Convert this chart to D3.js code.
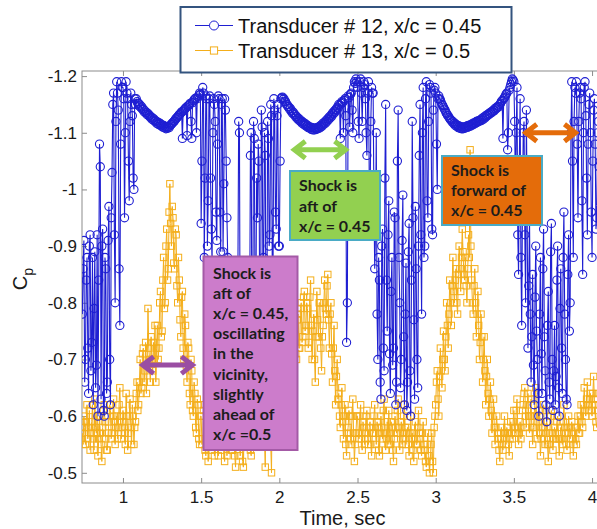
<!DOCTYPE html>
<html>
<head>
<meta charset="utf-8">
<script src="https://cdn.jsdelivr.net/npm/d3@7"></script>
<style>
  html, body { margin: 0; padding: 0; background: #ffffff; overflow: hidden; }
  svg { display: block; }
</style>
</head>
<body>
<svg id="chart" width="597" height="529"></svg>
<script>
// Sampling of both pressure records (seconds)
const tStart = 0.74;
const tStep = 0.005;

// Transducer #12 (x/c = 0.45), Cp, one value per time step from t = 0.74 s
const cp12 = [
  -0.78,-0.86,-0.91,-0.66,-0.70,-0.84,-0.88,-0.72,-0.64,-0.90,-0.92,-0.68,
  -0.73,-0.88,-0.62,-0.79,-0.89,-0.65,-0.69,-0.92,-0.60,-0.84, -1.08,-1.04,-0.63,-0.90,-0.93,-0.61,-0.60,-0.88,-0.86,-0.64,
  -0.66,-0.91,-0.97,-0.70,-0.62,-0.95,-1.03,-1.15,-1.17,-0.92, -0.80,-1.12,-1.19,-1.17,-1.14,-0.86,-0.76,-1.08,-1.19,-1.18,
  -1.18,-1.16,-0.95,-1.10,-1.19,-1.17,-1.16,-1.05,-0.98,-1.12, -1.17,-1.15,-1.13,-1.02,-1.00,-1.16,-1.15,-1.16,-1.155,-1.152,
  -1.152,-1.147,-1.149,-1.144,-1.146,-1.141,-1.142,-1.137,-1.139,-1.135, -1.136,-1.132,-1.134,-1.13,-1.131,-1.127,-1.128,-1.124,-1.126,-1.122,
  -1.124,-1.12,-1.121,-1.117,-1.119,-1.115,-1.118,-1.114,-1.116,-1.112, -1.114,-1.11,-1.113,-1.109,-1.111,-1.107,-1.11,-1.108,-1.111,-1.109,
  -1.112,-1.114,-1.115,-1.117,-1.118,-1.12,-1.121,-1.124,-1.125,-1.127, -1.128,-1.13,-1.132,-1.133,-1.135,-1.137,-1.09,-1.138,-1.14,-1.142,
  -1.143,-1.145,-1.095,-1.147,-1.148,-1.15,-1.152,-1.12,-1.09,-1.153, -1.156,-1.158,-1.16,-1.161,-1.10,-1.16,-1.163,-1.166,-1.17,-1.168,
  -0.94,-1.05,-1.18,-1.17,-0.88,-1.02,-1.165,-1.16,-0.90,-0.98, -1.16,-1.165,-1.02,-0.93,-0.87,-1.10,-1.16,-1.15,-1.12,-0.96,
  -0.91,-1.08,-1.165,-1.16,-0.96,-0.89,-1.15,-1.16,-0.89,-1.01, -1.16,-1.14,-1.05,-0.95,-0.88,-0.80,-0.75,-0.70,-0.68,-0.74,
  -0.72,-0.66,-0.64,-0.80,-0.78,-0.69,-0.70,-0.85,-1.12,-1.10, -0.66,-0.71,-0.74,-0.63,-0.62,-0.76,-0.70,-0.82,-0.80,-0.67,
  -0.68,-0.79,-0.76,-1.06,-1.10,-0.70,-0.72,-1.12,-1.09,-0.78, -0.80,-1.02,-0.95,-1.08,-1.05,-0.76,-0.74,-1.14,-1.11,-0.86,
  -0.88,-1.10,-1.06,-0.72,-0.70,-1.12,-1.09,-0.90,-0.92,-1.15, -1.13,-0.85,-0.87,-1.16,-1.14,-0.96,-0.93,-1.13,-1.15,-0.90,
  -0.90,-1.05,-1.16,-1.162,-1.163,-1.159,-1.16,-1.155,-1.155,-1.15, -1.15,-1.146,-1.146,-1.142,-1.143,-1.138,-1.139,-1.134,-1.136,-1.132,
  -1.132,-1.128,-1.129,-1.125,-1.126,-1.122,-1.124,-1.12,-1.121,-1.117, -1.119,-1.115,-1.117,-1.113,-1.115,-1.111,-1.113,-1.109,-1.111,-1.108,
  -1.11,-1.106,-1.109,-1.105,-1.108,-1.105,-1.108,-1.106,-1.109,-1.107, -1.11,-1.108,-1.112,-1.11,-1.114,-1.112,-1.117,-1.115,-1.119,-1.117,
  -1.122,-1.12,-1.125,-1.123,-1.128,-1.126,-1.131,-1.129,-1.135,-1.133, -1.138,-1.136,-1.141,-1.14,-1.145,-1.143,-1.15,-1.148,-1.09,-1.152,
  -1.155,-1.153,-1.10,-1.157,-1.16,-1.13,-0.73,-0.80,-1.165,-1.162, -1.11,-1.168,-1.17,-1.14,-1.10,-1.18,-1.19,-1.187,-1.195,-1.19,
  -1.18,-1.12,-1.09,-1.19,-1.195,-1.17,-1.12,-1.18,-1.19,-1.185, -1.16,-1.10,-1.06,-1.17,-1.19,-1.02,-0.96,-1.12,-1.18,-1.17,
  -1.17,-0.98,-0.86,-0.92,-1.10,-0.78,-0.70,-0.88,-0.84,-0.66, -0.63,-0.90,-0.93,-0.72,-0.68,-1.02,-1.15,-0.84,-0.75,-0.92,
  -0.98,-0.71,-0.64,-0.82,-0.88,-0.69,-0.72,-0.96,-0.95,-0.62, -0.66,-1.05,-1.14,-0.88,-0.80,-0.65,-0.70,-0.91,-0.99,-0.74,
  -0.62,-0.78,-0.87,-0.61,-0.66,-0.89,-0.94,-0.68,-0.60,-0.84, -1.12,-0.95,-0.77,-0.63,-0.97,-0.86,-0.70,-0.65,-0.90,-1.06,
  -1.15,-0.92,-0.78,-1.10,-1.18,-0.88,-0.90,-1.16,-1.19,-0.98, -0.95,-1.12,-1.185,-1.18,-1.17,-0.93,-0.92,-1.14,-1.175,-1.18,
  -1.17,-1.08,-1.00,-1.16,-1.165,-1.16,-1.158,-1.154,-1.15,-1.148, -1.145,-1.142,-1.14,-1.136,-1.134,-1.131,-1.13,-1.127,-1.125,-1.123,
  -1.122,-1.119,-1.12,-1.116,-1.117,-1.113,-1.115,-1.111,-1.113,-1.109, -1.112,-1.108,-1.111,-1.107,-1.11,-1.107,-1.11,-1.108,-1.111,-1.109,
  -1.112,-1.11,-1.113,-1.111,-1.114,-1.112,-1.115,-1.114,-1.117,-1.115, -1.118,-1.117,-1.12,-1.118,-1.121,-1.12,-1.122,-1.121,-1.124,-1.122,
  -1.126,-1.124,-1.128,-1.126,-1.13,-1.129,-1.132,-1.131,-1.134,-1.133, -1.136,-1.135,-1.138,-1.137,-1.14,-1.139,-1.143,-1.142,-1.145,-1.144,
  -1.147,-1.146,-1.15,-1.152,-1.155,-1.157,-1.09,-1.16,-1.162,-1.165, -1.168,-1.17,-1.07,-1.10,-1.175,-1.18,-1.185,-1.19,-1.195,-1.193,
  -1.19,-1.12,-0.98,-1.10,-1.18,-0.92,-0.85,-1.05,-1.16,-0.88, -0.76,-0.98,-1.10,-1.12,-0.92,-0.80,-1.14,-0.95,-0.72,-0.83,
  -0.95,-0.78,-0.66,-0.74,-0.85,-0.69,-0.62,-0.81,-0.90,-0.75, -0.70,-0.64,-0.60,-0.78,-0.88,-0.71,-0.64,-0.86,-0.93,-0.74,
  -0.68,-0.62,-0.59,-0.76,-0.82,-0.66,-0.63,-0.89,-0.94,-0.70, -0.61,-0.68,-0.76,-0.62,-0.67,-0.84,-0.90,-0.65,-0.60,-0.79,
  -0.86,-0.72,-0.64,-0.88,-0.96,-0.78,-0.70,-0.63,-0.62,-0.85, -0.92,-0.75,-0.80,-1.10,-1.19,-1.05,-0.88,-1.12,-1.18,-1.17,
  -1.19,-1.08,-0.95,-1.12,-1.17,-1.18,-1.16,-0.98,-0.85,-1.10, -1.18,-1.19,-1.13,-1.02,-0.92,-1.08,-1.15,-1.17,-1.10,-0.96,
  -0.88,-1.05,-1.14,-1.16,-1.08,-0.93,-0.95,-1.10,-1.12,-1.04
];

// Transducer #13 (x/c = 0.5), Cp, same time steps
const cp13 = [
  -0.57,-0.55,-0.60,-0.58,-0.55,-0.59,-0.62,-0.56,-0.58,-0.61,-0.54,-0.57,
  -0.59,-0.62,-0.56,-0.54,-0.63,-0.58,-0.57,-0.60,-0.53,-0.56, -0.60,-0.57,-0.55,-0.52,-0.58,-0.61,-0.62,-0.59,-0.56,-0.54,
  -0.54,-0.57,-0.59,-0.62,-0.61,-0.56,-0.57,-0.60,-0.63,-0.59, -0.55,-0.58,-0.60,-0.56,-0.58,-0.62,-0.65,-0.60,-0.56,-0.58,
  -0.61,-0.59,-0.57,-0.55,-0.64,-0.60,-0.54,-0.57,-0.60,-0.63, -0.58,-0.55,-0.62,-0.60,-0.55,-0.58,-0.59,-0.64,-0.66,-0.61,
  -0.62,-0.66,-0.70,-0.64,-0.65,-0.71,-0.72,-0.66,-0.68,-0.73, -0.64,-0.69,-0.79,-0.72,-0.70,-0.66,-0.74,-0.70,-0.68,-0.73,
  -0.70,-0.76,-0.66,-0.72,-0.76,-0.70,-0.72,-0.80,-0.82,-0.74, -0.75,-0.84,-0.88,-0.79,-0.80,-0.90,-0.93,-0.84,-0.86,-0.96,
  -1.01,-0.94,-0.90,-0.97,-0.95,-0.87,-0.86,-0.93,-0.92,-0.83, -0.80,-0.88,-0.84,-0.77,-0.74,-0.81,-0.82,-0.72,-0.70,-0.78,
  -0.76,-0.69,-0.66,-0.73,-0.72,-0.64,-0.62,-0.70,-0.68,-0.61, -0.60,-0.66,-0.64,-0.58,-0.57,-0.63,-0.62,-0.56,-0.55,-0.60,
  -0.60,-0.55,-0.56,-0.61,-0.62,-0.54,-0.53,-0.59,-0.58,-0.52, -0.55,-0.60,-0.61,-0.56,-0.54,-0.58,-0.59,-0.53,-0.57,-0.60,
  -0.62,-0.56,-0.53,-0.59,-0.58,-0.54,-0.56,-0.61,-0.60,-0.55, -0.52,-0.57,-0.57,-0.53,-0.55,-0.60,-0.61,-0.56,-0.58,-0.54,
  -0.54,-0.58,-0.59,-0.53,-0.51,-0.56,-0.57,-0.61,-0.62,-0.55, -0.53,-0.58,-0.58,-0.52,-0.51,-0.57,-0.56,-0.60,-0.60,-0.55,
  -0.55,-0.59,-0.58,-0.54,-0.53,-0.59,-0.61,-0.56,-0.57,-0.62, -0.63,-0.58,-0.59,-0.65,-0.66,-0.60,-0.60,-0.66,-0.68,-0.62,
  -0.62,-0.56,-0.51,-0.64,-0.70,-0.62,-0.58,-0.68,-0.66,-0.55, -0.50,-0.66,-0.72,-0.65,-0.63,-0.70,-0.69,-0.62,-0.60,-0.70,
  -0.74,-0.68,-0.66,-0.72,-0.70,-0.64,-0.62,-0.71,-0.76,-0.70, -0.68,-0.74,-0.72,-0.66,-0.65,-0.72,-0.74,-0.68,-0.70,-0.75,
  -0.76,-0.71,-0.70,-0.77,-0.78,-0.72,-0.72,-0.79,-0.80,-0.73, -0.74,-0.81,-0.82,-0.75,-0.76,-0.80,-0.79,-0.72,-0.73,-0.81,
  -0.84,-0.76,-0.70,-0.75,-0.78,-0.70,-0.66,-0.74,-0.82,-0.77, -0.74,-0.80,-0.80,-0.72,-0.68,-0.74,-0.76,-0.80,-0.84,-0.79,
  -0.78,-0.83,-0.85,-0.77,-0.72,-0.78,-0.80,-0.71,-0.66,-0.72, -0.76,-0.68,-0.62,-0.67,-0.70,-0.63,-0.64,-0.60,-0.58,-0.62,
  -0.65,-0.59,-0.56,-0.60,-0.62,-0.55,-0.53,-0.57,-0.58,-0.61, -0.60,-0.56,-0.55,-0.60,-0.63,-0.57,-0.52,-0.55,-0.57,-0.60,
  -0.60,-0.57,-0.56,-0.60,-0.62,-0.56,-0.54,-0.59,-0.58,-0.55, -0.57,-0.60,-0.61,-0.56,-0.55,-0.58,-0.59,-0.55,-0.53,-0.57,
  -0.57,-0.60,-0.62,-0.57,-0.55,-0.59,-0.58,-0.54,-0.53,-0.57, -0.60,-0.58,-0.56,-0.61,-0.63,-0.57,-0.54,-0.56,-0.59,-0.55,
  -0.61,-0.57,-0.55,-0.59,-0.58,-0.54,-0.52,-0.56,-0.60,-0.58, -0.57,-0.61,-0.63,-0.58,-0.54,-0.57,-0.59,-0.55,-0.56,-0.60,
  -0.62,-0.58,-0.55,-0.57,-0.58,-0.55,-0.53,-0.57,-0.60,-0.56, -0.57,-0.54,-0.52,-0.56,-0.59,-0.55,-0.55,-0.58,-0.61,-0.57,
  -0.56,-0.54,-0.53,-0.57,-0.59,-0.55,-0.54,-0.52,-0.51,-0.55, -0.57,-0.53,-0.50,-0.52,-0.55,-0.57,-0.52,-0.50,-0.58,-0.60,
  -0.62,-0.66,-0.68,-0.63,-0.60,-0.67,-0.72,-0.68,-0.65,-0.70, -0.75,-0.70,-0.68,-0.74,-0.80,-0.76,-0.72,-0.78,-0.84,-0.80,
  -0.76,-0.83,-0.88,-0.82,-0.80,-0.84,-0.86,-0.80,-0.78,-0.85, -0.90,-0.86,-0.82,-0.88,-0.93,-0.89,-0.85,-0.84,-0.88,-0.83,
  -0.80,-0.86,-0.92,-0.88,-1.07,-0.90,-0.84,-0.80,-0.78,-0.83, -0.86,-0.80,-0.74,-0.78,-0.82,-0.76,-0.70,-0.73,-0.78,-0.74,
  -0.66,-0.70,-0.74,-0.68,-0.62,-0.67,-0.70,-0.64,-0.60,-0.63, -0.66,-0.61,-0.57,-0.60,-0.63,-0.58,-0.55,-0.58,-0.60,-0.57,
  -0.56,-0.54,-0.52,-0.56,-0.58,-0.55,-0.54,-0.57,-0.60,-0.57, -0.55,-0.58,-0.57,-0.55,-0.53,-0.56,-0.59,-0.57,-0.56,-0.59,
  -0.61,-0.58,-0.57,-0.61,-0.63,-0.58,-0.55,-0.57,-0.59,-0.56, -0.58,-0.61,-0.62,-0.64,-0.65,-0.60,-0.58,-0.62,-0.64,-0.60,
  -0.57,-0.60,-0.63,-0.58,-0.55,-0.58,-0.60,-0.63,-0.65,-0.60, -0.56,-0.59,-0.61,-0.57,-0.53,-0.56,-0.58,-0.61,-0.62,-0.58,
  -0.55,-0.57,-0.59,-0.55,-0.52,-0.55,-0.57,-0.60,-0.61,-0.57, -0.54,-0.56,-0.58,-0.57,-0.56,-0.59,-0.60,-0.56,-0.53,-0.56,
  -0.58,-0.56,-0.55,-0.59,-0.62,-0.58,-0.57,-0.55,-0.54,-0.57, -0.60,-0.58,-0.56,-0.58,-0.59,-0.56,-0.53,-0.55,-0.58,-0.56,
  -0.55,-0.58,-0.60,-0.57,-0.57,-0.60,-0.62,-0.59,-0.58,-0.62, -0.65,-0.61,-0.60,-0.63,-0.66,-0.62,-0.61,-0.63,-0.64,-0.61,
  -0.60,-0.64,-0.67,-0.63,-0.62,-0.59,-0.58,-0.61,-0.64,-0.62
];

const xTicks = [1, 1.5, 2, 2.5, 3, 3.5, 4];
const yTicks = [-1.2, -1.1, -1, -0.9, -0.8, -0.7, -0.6, -0.5];
const seriesNames = ["Transducer # 12, x/c = 0.45", "Transducer # 13, x/c = 0.5"];
const xTitle = "Time, sec";

// Wrapped text of the three callouts
const calloutText = {
  green: ["Shock is", "aft of", "x/c = 0.45"],
  orange: ["Shock is", "forward of", "x/c = 0.45"],
  purple: ["Shock is", "aft of", "x/c = 0.45,", "oscillating", "in the", "vicinity,", "slightly", "ahead of", "x/c =0.5"]
};

const BLUE = "#1f1fd2";
const AMBER = "#f4ae1a";

const svg = d3.select("#chart");
const plot = { left: 82, top: 71, right: 603, bottom: 483 };

const x = d3.scaleLinear().domain([0.738, 4.07]).range([plot.left, plot.right]);
// Cp axis runs with suction (more negative) upward
const y = d3.scaleLinear().domain([-1.209, -0.482]).range([plot.top, plot.bottom]);

const tickFont = "'Liberation Sans', Arial, Helvetica, sans-serif";

// ---- frame and ticks ----
svg.append("rect")
  .attr("x", plot.left).attr("y", plot.top)
  .attr("width", plot.right - plot.left).attr("height", plot.bottom - plot.top)
  .attr("fill", "none").attr("stroke", "#8c8c8c").attr("stroke-width", 1);

function styleAxis(g) {
  g.select(".domain").remove();
  g.selectAll(".tick line").attr("stroke", "#8c8c8c");
  g.selectAll(".tick text").attr("fill", "#1a1a1a")
    .style("font-family", tickFont).style("font-size", "17px");
}

svg.append("g").attr("transform", `translate(0,${plot.bottom})`)
  .call(d3.axisBottom(x).tickValues(xTicks).tickSize(-5).tickPadding(8).tickFormat(d => String(d)))
  .call(styleAxis);
svg.append("g").attr("transform", `translate(0,${plot.top})`)
  .call(d3.axisTop(x).tickValues(xTicks).tickSize(-5).tickFormat(""))
  .call(styleAxis);
svg.append("g").attr("transform", `translate(${plot.left},0)`)
  .call(d3.axisLeft(y).tickValues(yTicks).tickSize(-5).tickPadding(5).tickFormat(d => String(d)))
  .call(styleAxis);

// axis titles
svg.append("text")
  .attr("x", (plot.left + plot.right) / 2).attr("y", 525)
  .attr("text-anchor", "middle")
  .style("font-family", tickFont).style("font-size", "20px").attr("fill", "#1a1a1a")
  .text(xTitle);

const yTitle = svg.append("text")
  .attr("transform", `translate(27,${(plot.top + plot.bottom) / 2 + 2}) rotate(-90)`)
  .attr("text-anchor", "middle")
  .style("font-family", tickFont).style("font-size", "20px").attr("fill", "#1a1a1a");
yTitle.append("tspan").text("C");
yTitle.append("tspan").attr("dy", 6).style("font-size", "14px").text("p");

// ---- data ----
svg.append("defs").append("clipPath").attr("id", "plotClip")
  .append("rect").attr("x", plot.left).attr("y", plot.top)
  .attr("width", plot.right - plot.left).attr("height", plot.bottom - plot.top);

const dataLayer = svg.append("g").attr("clip-path", "url(#plotClip)");

function toPoints(values) {
  return values.map((v, i) => ({ t: tStart + i * tStep, cp: v }));
}
const pts12 = toPoints(cp12);
const pts13 = toPoints(cp13);

const line = d3.line().x(d => x(d.t)).y(d => y(d.cp));

// transducer #13: squares
dataLayer.append("path").datum(pts13)
  .attr("d", line).attr("fill", "none").attr("stroke", AMBER).attr("stroke-width", 1);
const sq = 6.4;
dataLayer.append("g").selectAll("rect").data(pts13).join("rect")
  .attr("x", d => x(d.t) - sq / 2).attr("y", d => y(d.cp) - sq / 2)
  .attr("width", sq).attr("height", sq)
  .attr("fill", "none").attr("stroke", AMBER).attr("stroke-width", 1);

// transducer #12: circles
dataLayer.append("path").datum(pts12)
  .attr("d", line).attr("fill", "none").attr("stroke", BLUE).attr("stroke-width", 1.1);
dataLayer.append("g").selectAll("circle").data(pts12).join("circle")
  .attr("cx", d => x(d.t)).attr("cy", d => y(d.cp)).attr("r", 4.1)
  .attr("fill", "none").attr("stroke", BLUE).attr("stroke-width", 1.1);

// ---- legend ----
const legend = svg.append("g");
legend.append("rect")
  .attr("x", 180.5).attr("y", 7).attr("width", 331).attr("height", 65.5)
  .attr("fill", "#ffffff").attr("stroke", "#34547f").attr("stroke-width", 2);
const legendRows = [
  { name: seriesNames[0], color: BLUE, marker: "circle", yy: 25.5 },
  { name: seriesNames[1], color: AMBER, marker: "square", yy: 50.5 }
];
legendRows.forEach(r => {
  legend.append("line").attr("x1", 195).attr("x2", 233).attr("y1", r.yy).attr("y2", r.yy)
    .attr("stroke", r.color).attr("stroke-width", 1);
  if (r.marker === "circle") {
    legend.append("circle").attr("cx", 214).attr("cy", r.yy).attr("r", 4.5)
      .attr("fill", "#fff").attr("stroke", r.color).attr("stroke-width", 1);
  } else {
    legend.append("rect").attr("x", 214 - 3.6).attr("y", r.yy - 3.6).attr("width", 7.2).attr("height", 7.2)
      .attr("fill", "#fff").attr("stroke", r.color).attr("stroke-width", 1);
  }
  legend.append("text").attr("x", 238).attr("y", r.yy + 7.5)
    .style("font-family", tickFont).style("font-size", "20px").attr("fill", "#111")
    .text(r.name);
});

// ---- callouts ----
const noteFont = "Lato, 'Open Sans', Calibri, sans-serif";

function callout(box, lines, fill, stroke, textX, firstBaseline, lineGap) {
  const g = svg.append("g");
  g.append("rect").attr("x", box[0]).attr("y", box[1]).attr("width", box[2]).attr("height", box[3])
    .attr("fill", fill).attr("stroke", stroke).attr("stroke-width", 2);
  lines.forEach((s, i) => {
    g.append("text").attr("x", textX).attr("y", firstBaseline + i * lineGap)
      .style("font-family", noteFont).style("font-weight", "700").style("font-size", "16px")
      .attr("fill", "#1c1c1c").text(s);
  });
}

function doubleArrow(t1, t2, cpLevel, color) {
  const x1 = x(t1), x2 = x(t2), yy = y(cpLevel);
  const hl = 11, hh = 8.5, inset = 2.5;
  const p = d3.path();
  p.moveTo(x1 + inset, yy); p.lineTo(x2 - inset, yy);
  p.moveTo(x1 + inset + hl, yy - hh); p.lineTo(x1 + inset, yy); p.lineTo(x1 + inset + hl, yy + hh);
  p.moveTo(x2 - inset - hl, yy - hh); p.lineTo(x2 - inset, yy); p.lineTo(x2 - inset - hl, yy + hh);
  svg.append("path").attr("d", p.toString()).attr("fill", "none")
    .attr("stroke", color).attr("stroke-width", 5)
    .attr("stroke-linejoin", "miter").attr("stroke-linecap", "butt");
}

// green: shock aft of transducer #12
callout([290, 171, 90, 69], calloutText.green, "#92d050", "#4aabc5", 299, 191, 20.5);
doubleArrow(2.08, 2.44, -1.07, "#92d050");

// orange: shock forward of transducer #12
callout([442, 156, 100, 69], calloutText.orange, "#e46c0a", "#4aabc5", 451, 176, 20);
doubleArrow(3.56, 3.91, -1.10, "#e46c0a");

// purple: shock between the two transducers
callout([203.5, 256.5, 94, 193.5], calloutText.purple, "#cc7ccb", "#a45aa6", 213, 278.5, 20.2);
doubleArrow(1.11, 1.46, -0.69, "#9a4ea3");
</script>
</body>
</html>
